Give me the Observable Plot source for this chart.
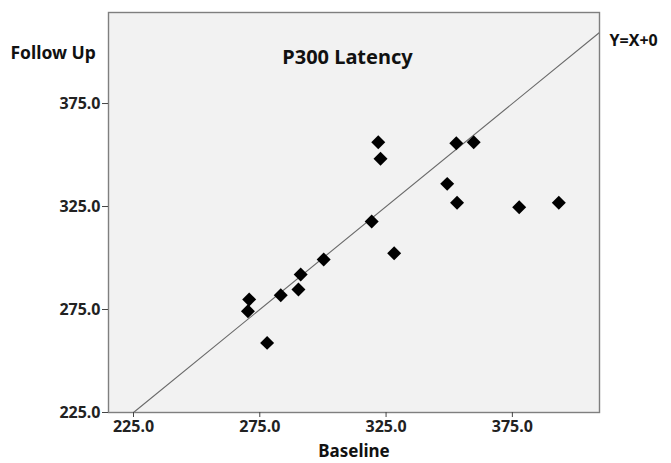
<!DOCTYPE html>
<html>
<head>
<meta charset="utf-8">
<script src="https://cdn.jsdelivr.net/npm/d3@7"></script>
<script src="https://cdn.jsdelivr.net/npm/@observablehq/plot@0.6"></script>
<style>
  html, body { margin: 0; padding: 0; background: #fff; }
  svg { display: block; }
</style>
</head>
<body>
<div id="chart"></div>
<script>
// Data
const baseline = [321.9, 322.8, 352.8, 359.7, 349.2, 353.1, 377.7, 393.4, 319.3, 328.2, 300.3, 291.2, 290.3, 283.3, 270.8, 270.3, 277.9];
const followUp = [356.2, 348.2, 355.7, 356.2, 336.0, 326.8, 324.7, 326.8, 317.7, 302.3, 299.3, 292.0, 284.7, 281.9, 279.9, 274.2, 258.8];
const tickValues = [225, 275, 325, 375];
const refLine = [225, 409.5];   // Y = X + 0 reference line endpoints
const xDomain = [215.1, 409.5];
const yDomain = [225, 419.2];

const titleText = "P300 Latency";
const xLabel = "Baseline";
const yLabel = "Follow Up";
const refLabel = "Y=X+0";

const points = baseline.map((b, i) => ({b, f: followUp[i]}));
const font = "'Noto Sans', 'DejaVu Sans', sans-serif";

const chart = Plot.plot({
  width: 671,
  height: 463,
  marginLeft: 108,
  marginRight: 72,
  marginTop: 12,
  marginBottom: 51,
  style: {fontFamily: font, background: "#fff", color: "#222"},
  x: {domain: xDomain},
  y: {domain: yDomain},
  marks: [
    Plot.frame({fill: "#f2f2f2", stroke: null}),
    Plot.line(refLine, {x: d => d, y: d => d, stroke: "#6a6a6a", strokeWidth: 1.1}),
    Plot.dot(points, {x: "b", y: "f", symbol: "diamond2", r: 6.3, fill: "#000", stroke: null}),
    Plot.frame({stroke: "#7f7f7f", strokeWidth: 1.4}),
    Plot.axisX({ticks: tickValues, tickFormat: d => d.toFixed(1), tickSize: 5, tickPadding: 3,
      fontSize: 16, fontWeight: "bold", label: null, stroke: "#444"}),
    Plot.axisY({ticks: tickValues, tickFormat: d => d.toFixed(1), tickSize: 6, tickPadding: 2,
      fontSize: 16, fontWeight: "bold", label: null, stroke: "#444"}),
    Plot.text([yLabel], {frameAnchor: "top-left", text: d => d, textAnchor: "start", dx: -98, dy: 34,
      fontSize: 17.5, fontWeight: "bold", fill: "#111"}),
    Plot.text([titleText], {frameAnchor: "top", text: d => d, dx: -6.5, dy: 37,
      fontSize: 20, fontWeight: "bold", fill: "#111"}),
    Plot.text([xLabel], {frameAnchor: "bottom", text: d => d, dx: 0, dy: 44,
      fontSize: 17, fontWeight: "bold", fill: "#111"}),
    Plot.text([refLabel], {frameAnchor: "top-right", text: d => d, textAnchor: "start", dx: 10, dy: 22,
      fontSize: 16, fontWeight: "bold", fill: "#111"})
  ]
});
document.getElementById("chart").appendChild(chart);
</script>
</body>
</html>
